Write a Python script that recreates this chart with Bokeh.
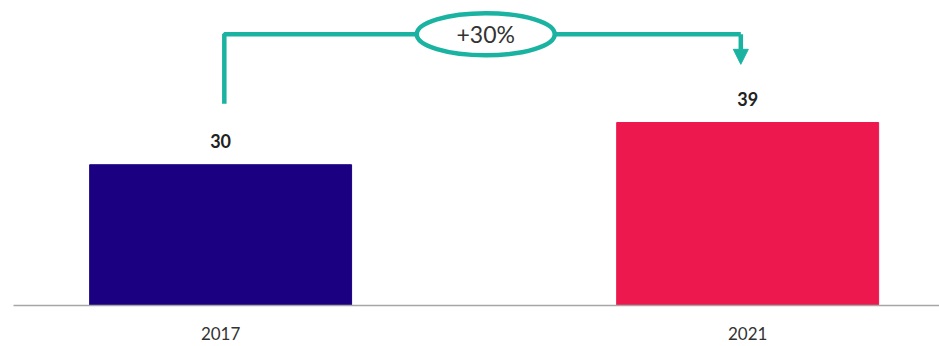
from bokeh.plotting import figure
from bokeh.models import Range1d, FixedTicker, Arrow, NormalHead, ColumnDataSource
from bokeh.core.properties import value
from bokeh.embed import file_html
from bokeh.resources import INLINE

# ---- data ----
categories = ["2017", "2021"]
values = [30, 39]
bar_colors = ["#1b0081", "#ed184e"]

TEAL = "#1ab3a2"
FONT = "Lato"

xs = list(range(len(categories)))
src = ColumnDataSource(dict(x=xs, top=values, color=bar_colors,
                            label=[str(v) for v in values]))

p = figure(width=939, height=346, output_backend="svg", toolbar_location=None,
           x_range=Range1d(-0.393, 1.364), y_range=Range1d(0, 65),
           min_border_left=13, min_border_right=0, min_border_top=0, min_border_bottom=41)
p.outline_line_color = None
p.grid.visible = False
p.yaxis.visible = False

p.vbar(x="x", top="top", bottom=0, width=0.497, color="color", source=src)

p.text(x="x", y="top", text="label", source=src, text_align="center",
       text_baseline="middle", y_offset=-24, text_font=value(FONT),
       text_font_style="bold", text_font_size="18px", text_color="#222222")

# x axis
xa = p.xaxis[0]
xa.ticker = FixedTicker(ticks=xs)
xa.major_label_overrides = {i: c for i, c in zip(xs, categories)}
xa.axis_line_color = "#a6a6a6"
xa.axis_line_width = 1.5
xa.major_tick_line_color = None
xa.minor_tick_line_color = None
xa.major_label_standoff = 15
xa.major_label_text_font = FONT
xa.major_label_text_font_size = "17px"
xa.major_label_text_color = "#333333"

# connector with growth annotation
y_line = 57.8
x_left = xs[0] + 0.007
x_right = xs[1] - 0.013
p.line(x=[x_left, x_left, x_right], y=[43.0, y_line, y_line],
       line_color=TEAL, line_width=4.5)
p.add_layout(Arrow(end=NormalHead(size=15, fill_color=TEAL, line_color=TEAL),
                   x_start=x_right, y_start=y_line, x_end=x_right, y_end=51.4,
                   line_color=TEAL, line_width=4.5))

x_mid = (x_left + x_right) / 2 + 0.006
p.ellipse(x=[x_mid], y=[y_line], width=[138], height=[42],
          width_units="screen", height_units="screen",
          fill_color="white", line_color=TEAL, line_width=4.5)
pct = round((values[1] - values[0]) / values[0] * 100)
p.text(x=[x_mid], y=[y_line], text=[f"+{pct}%"], text_align="center",
       text_baseline="middle", text_font=value(FONT), text_font_size="23px",
       text_color="#333333")

open("out.html", "w").write(file_html(p, INLINE))
